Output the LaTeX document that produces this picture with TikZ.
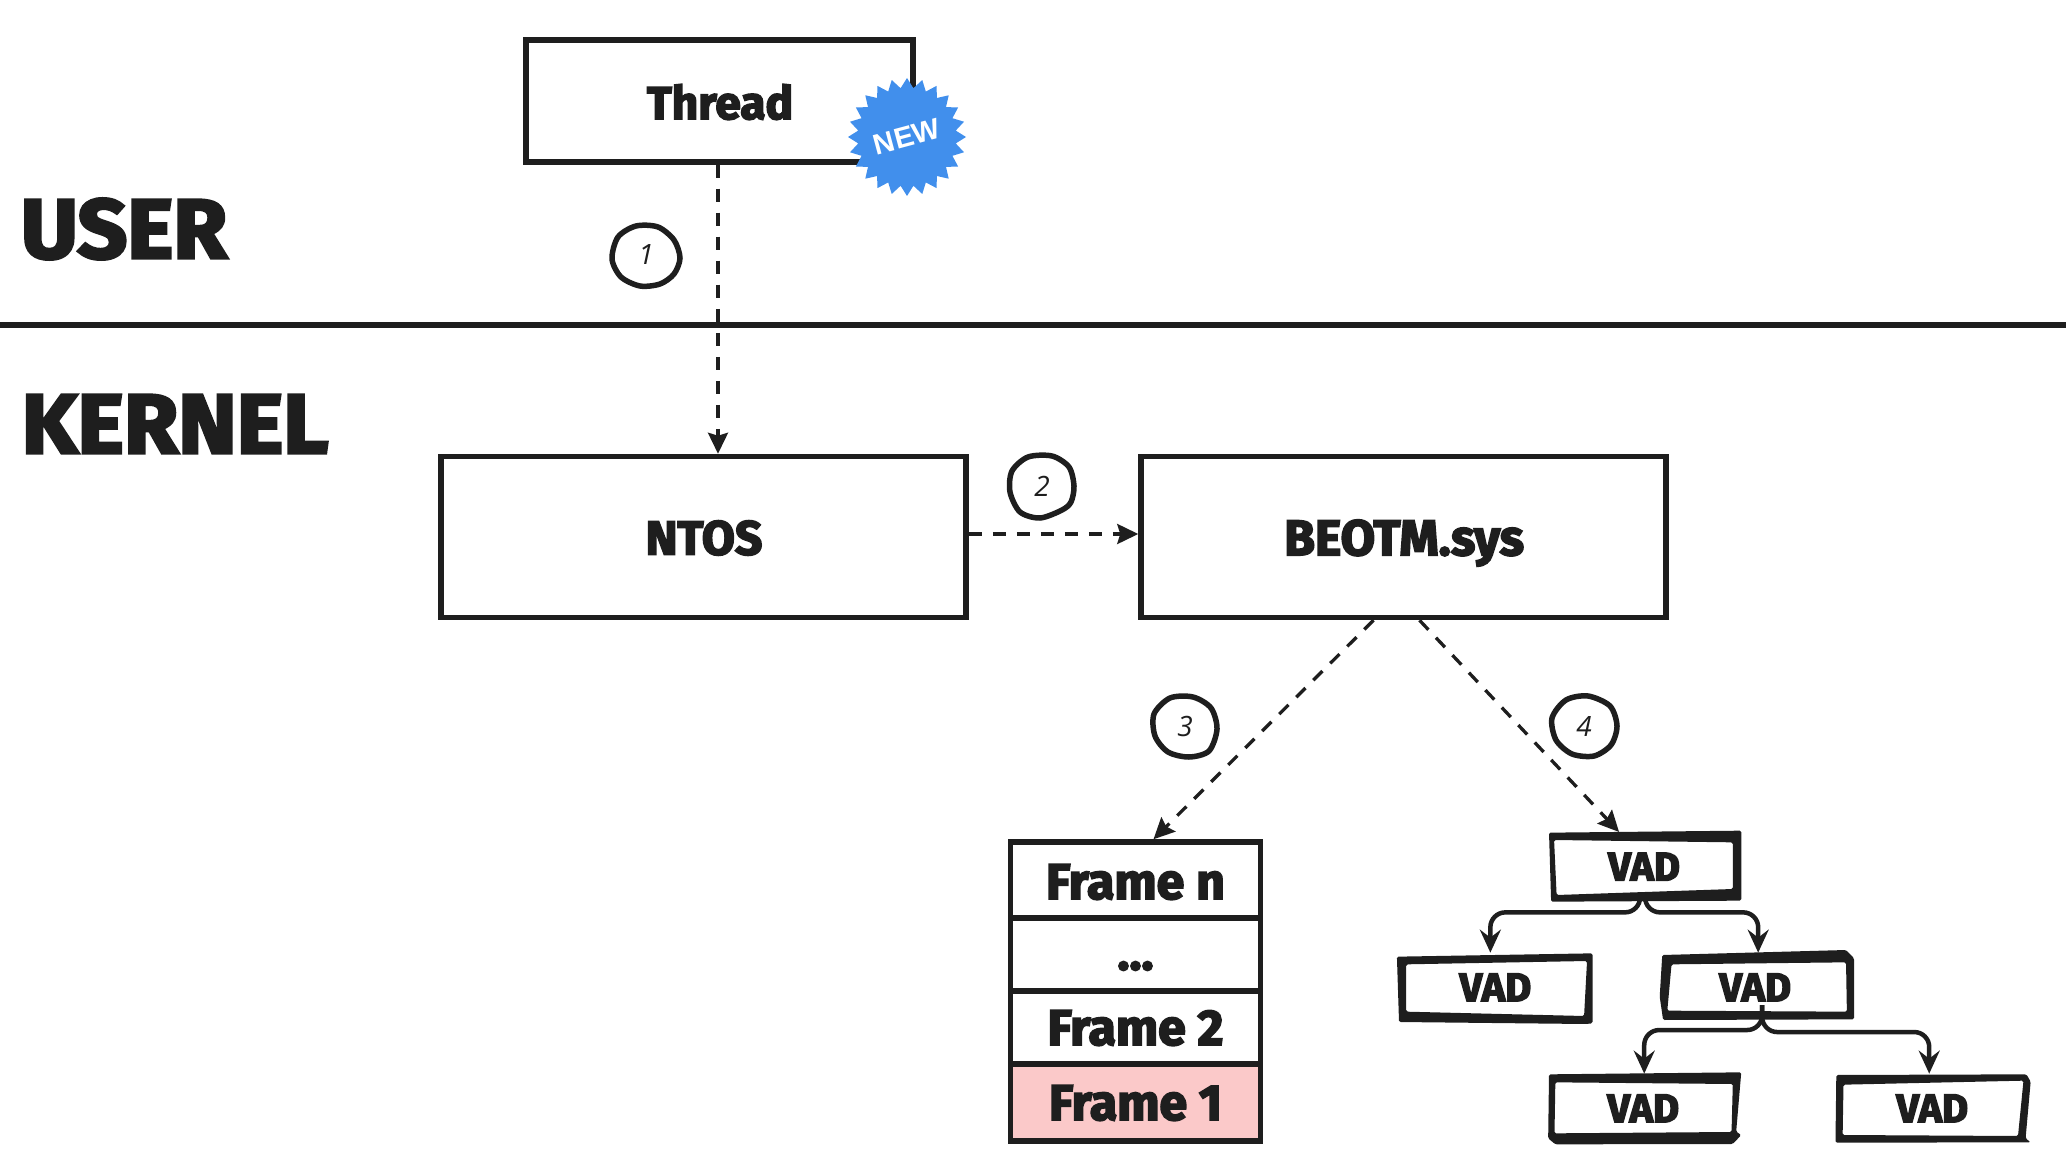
\documentclass[tikz,border=0pt]{standalone}
\usepackage{fontspec}
\usetikzlibrary{shapes.geometric,arrows.meta,calc}
\setmainfont{Fira Sans}
\newfontfamily\heavyf[UprightFont=* Bold,FakeBold=3.5,FakeStretch=1.0]{Fira Sans}
\newfontfamily\numf[ItalicFont=* Italic]{Open Sans}
\newfontfamily\badgef{Liberation Sans}
\definecolor{ink}{HTML}{1E1E1E}
\definecolor{badgeblue}{HTML}{418FEC}
\definecolor{framepink}{HTML}{FBC9C9}
\tikzset{
  bigbox/.style={draw=ink,line width=5.5pt,fill=white,rectangle,inner sep=0pt},
  heading/.style={font=\heavyf\fontsize{84}{84}\selectfont,text=ink,inner sep=0pt},
  boxlabel/.style={font=\heavyf\fontsize{46}{46}\selectfont,text=ink,inner sep=0pt},
  vadlabel/.style={font=\heavyf\fontsize{40}{40}\selectfont,text=ink,inner sep=0pt,rectangle,minimum width=192pt,minimum height=69pt},
  framerow/.style={draw=ink,line width=5.5pt,rectangle,inner sep=0pt,minimum width=250pt},
  framelabel/.style={font=\heavyf\fontsize{50}{50}\selectfont,text=ink,inner sep=0pt},
  stepnum/.style={ellipse,inner sep=0pt,minimum width=66pt,minimum height=62pt,font=\numf\itshape\fontsize{28}{28}\selectfont,text=ink},
  stepring/.style={draw=ink,line width=5.5pt},
  dashconn/.style={draw=ink,line width=3.3pt,dash pattern=on 13pt off 11pt,-{Stealth[length=21pt,width=20pt,inset=3pt,sep=0pt]}},
  treeconn/.style={draw=ink,line width=4.5pt,rounded corners=15pt,-{Stealth[length=23pt,width=21pt,inset=8pt]}},
  ring/.style={fill=ink,even odd rule,rounded corners=1.5pt},
  badge/.style={star,star points=24,star point ratio=1.2,fill=badgeblue,minimum size=118pt,inner sep=0pt,rotate=15,
     font=\bfseries\fontsize{29}{29}\selectfont,text=white},
}
\begin{document}
\begin{tikzpicture}[x=1pt,y=-1pt]
\useasboundingbox (0,0) rectangle (2066,1174);
% separator
\coordinate (sepL) at (0,325);
\coordinate (sepR) at (2066,325);
\draw[ink,line width=5.5pt] (sepL) -- (sepR);
% headings
\node[heading] (user) at (124,229) {\scalebox{1.04}[1]{USER}};
\node[heading] (kernel) at (175,424) {\scalebox{1.05}[1]{KERNEL}};
% main boxes
\node[bigbox,minimum width=387pt,minimum height=122pt] (thread) at (719.5,101) {};
\node[boxlabel] (threadlbl) at (720,102) {Thread};
\node[bigbox,minimum width=525pt,minimum height=161pt] (ntos) at (703.5,537) {};
\node[boxlabel,font=\heavyf\fontsize{48}{48}\selectfont] (ntoslbl) at (704,538) {NTOS};
\node[bigbox,minimum width=525pt,minimum height=161pt] (beotm) at (1403.5,537) {};
\node[boxlabel,font=\heavyf\fontsize{50}{50}\selectfont] (beotmlbl) at (1404,543) {BEOTM.sys};
% badge
\node[badge] (newbadge) at (907,137) {\badgef\bfseries NEW};
% frames
\node[framerow,minimum height=76pt] (fn) at (1135.5,880) {};
\node[framerow,minimum height=73pt] (fd) at (1135.5,954.5) {};
\node[framerow,minimum height=73pt] (f2) at (1135.5,1027.5) {};
\node[framerow,minimum height=77pt,fill=framepink] (f1) at (1135.5,1102.5) {};
\node[framelabel] (fnl) at (1135.5,882) {Frame n};
\node[framelabel] (fdl) at (1135.5,966) {...};
\node[framelabel] (f2l) at (1135.5,1028) {Frame 2};
\node[framelabel] (f1l) at (1135.5,1103) {Frame 1};
% VAD boxes (zoom coordinates)
\begin{scope}[shift={(1380,810)},x=0.4225pt,y=-0.33333pt]
\fill[ring] (400,68) -- (855,62) -- (855,272) -- (405,275) -- cycle (412,90) -- (835,97) -- (835,237) -- (418,255) -- cycle;
\fill[ring] (40,440) -- (503,430) -- (503,640) -- (487,642) -- (45,636) -- cycle (62,463) -- (490,453) -- (483,618) -- (62,605) -- cycle;
\fill[ring] (668,435) -- (1103,420) -- (1122,445) -- (1122,628) -- (670,630) -- (662,560) -- cycle (690,463) -- (1103,457) -- (1105,605) -- (680,602) -- cycle;
\fill[ring] (400,793) -- (855,787) -- (843,965) -- (855,975) -- (835,1002) -- (415,1003) -- (398,985) -- cycle (415,817) -- (835,822) -- (832,966) -- (413,970) -- cycle;
\fill[ring] (1080,795) -- (1530,793) -- (1540,815) -- (1528,985) -- (1540,997) -- (1078,998) -- cycle (1097,824) -- (1523,812) -- (1510,978) -- (1095,975) -- cycle;
\node[vadlabel] (v1) at (625,170) {VAD};
\node[vadlabel] (v2) at (273,532) {VAD};
\node[vadlabel] (v3) at (888,532) {VAD};
\node[vadlabel] (v4) at (623,895) {VAD};
\node[vadlabel] (v5) at (1307,895) {VAD};
\end{scope}
% step numbers
\node[stepnum] (s1) at (646,255) {1};
\node[stepnum] (s2) at (1042,486) {2};
\node[stepnum] (s3) at (1185,726) {3};
\node[stepnum] (s4) at (1584,726) {4};
\draw[stepring,shift={(s1)}] plot[smooth cycle] coordinates {(34,3)(28,-15)(12,-28)(-10,-29)(-28,-18)(-34,4)(-25,22)(-6,31)(14,29)(28,19)};
\draw[stepring,shift={(s2)}] plot[smooth cycle] coordinates {(32,0)(27,-19)(10,-30)(-14,-29)(-30,-15)(-32,6)(-22,26)(-2,32)(20,24)(29,16)};
\draw[stepring,shift={(s3)}] plot[smooth cycle] coordinates {(32,3)(26,-18)(8,-29)(-15,-28)(-31,-12)(-30,10)(-17,26)(4,31)(24,25)};
\draw[stepring,shift={(s4)}] plot[smooth cycle] coordinates {(33,0)(26,-20)(4,-30)(-18,-26)(-32,-8)(-28,14)(-12,28)(10,30)(27,19)};
% connectors
\draw[dashconn] (718,0 |- thread.south) -- (718,0 |- ntos.north);
\draw[dashconn] ([yshift=3pt]ntos.east) -- ([yshift=3pt]beotm.west);
\draw[dashconn] ([xshift=-30pt]beotm.south) -- ([xshift=18pt]fn.north);
\draw[dashconn] ([xshift=16pt]beotm.south) -- ([xshift=-25pt]v1.north);
\draw[treeconn] ([xshift=-4pt]v1.south) -- ++(0,11) -| ([xshift=-5pt]v2.north);
\draw[treeconn] ([xshift=1pt]v1.south) -- ++(0,11) -| ([xshift=3pt]v3.north);
\draw[treeconn] ([xshift=7pt,yshift=17pt]v3.south) -- ++(0,25) -| ([xshift=1pt]v4.north);
\draw[treeconn] ([xshift=7pt,yshift=17pt]v3.south) -- ++(0,27) -| ([xshift=-3pt]v5.north);
\end{tikzpicture}
\end{document}
